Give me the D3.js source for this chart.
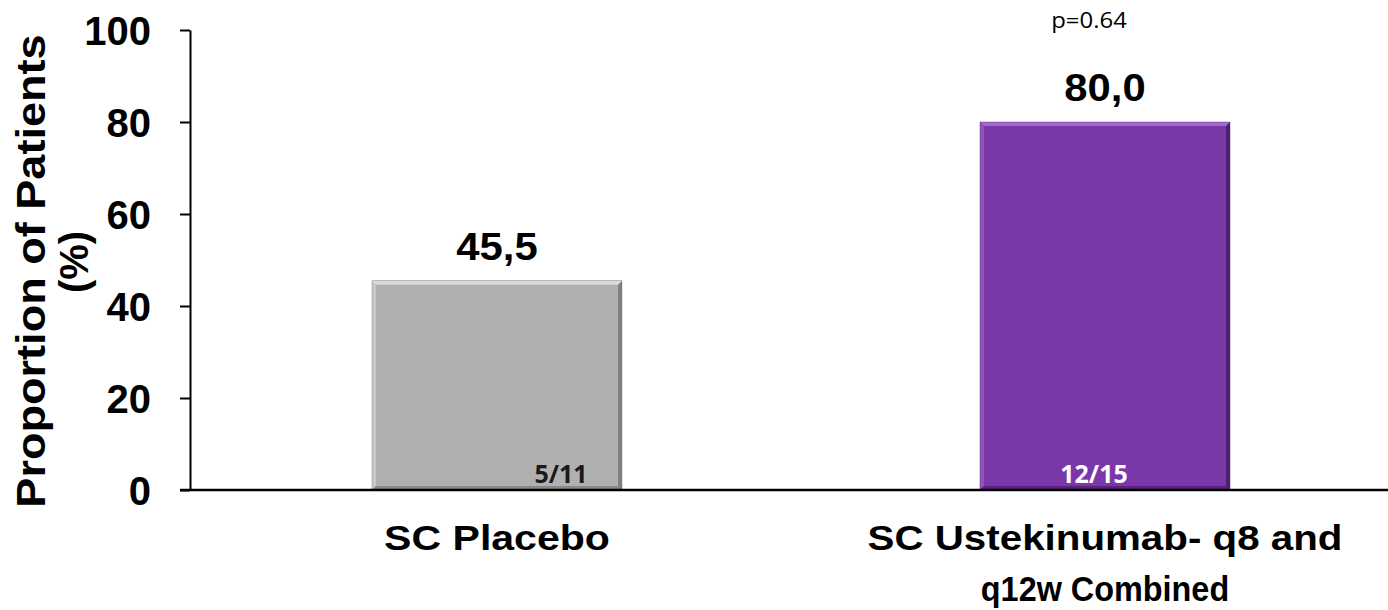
<!DOCTYPE html>
<html>
<head>
<meta charset="utf-8">
<script src="https://cdn.jsdelivr.net/npm/d3@7"></script>
<style>
  html, body { margin: 0; padding: 0; background: #fff; }
  svg { display: block; }
</style>
</head>
<body>
<svg id="chart" width="1388" height="610"></svg>
<script>
// Chart data
const categories = ["SC Placebo", "SC Ustekinumab- q8 and\nq12w Combined"];
const values = [45.5, 80.0];
const valueLabels = ["45,5", "80,0"];
const countLabels = ["5/11", "12/15"];
const yTicks = [0, 20, 40, 60, 80, 100];
const pValueText = "p=0.64";

// Styling
const ARIAL = "'Liberation Sans', Arial, sans-serif";
const SANS = "'Open Sans', 'DejaVu Sans', sans-serif";
const barColors = ["#b0b0b0", "#7a37a8"];
const edgeLight = ["#dadada", "#a16bcc"];
const edgeDark = ["#707070", "#45175f"];
const countColors = ["#1a1a1a", "#ffffff"];
const countOffsets = [64, -11];
const catStretch = [[1.14], [1.12, 0.9]];

const svg = d3.select("#chart");

const y = d3.scaleLinear().domain([0, 100]).range([490, 30]);
const x = d3.scaleBand().domain(categories).range([193, 1409])
  .paddingInner(0.5888).paddingOuter(0.2944);

// Bars with a bevelled look
const bars = svg.append("g").selectAll("g").data(categories).join("g");
bars.each(function(c, i) {
  const g = d3.select(this);
  const x0 = x(c), w = x.bandwidth();
  const yTop = y(values[i]), yBot = y(0);
  const b = 4;
  g.append("rect").attr("x", x0).attr("y", yTop).attr("width", w).attr("height", yBot - yTop)
    .attr("fill", barColors[i]);
  // left bevel
  g.append("polygon")
    .attr("points", [[x0, yTop], [x0 + b, yTop + b], [x0 + b, yBot - b], [x0, yBot]].join(" "))
    .attr("fill", edgeLight[i]).attr("opacity", 0.55);
  // right bevel
  g.append("polygon")
    .attr("points", [[x0 + w, yTop], [x0 + w - b, yTop + b], [x0 + w - b, yBot - b], [x0 + w, yBot]].join(" "))
    .attr("fill", edgeDark[i]).attr("opacity", 0.75);
  // bottom bevel
  g.append("polygon")
    .attr("points", [[x0, yBot], [x0 + b, yBot - b], [x0 + w - b, yBot - b], [x0 + w, yBot]].join(" "))
    .attr("fill", edgeDark[i]).attr("opacity", 0.6);
  // top bevel
  g.append("polygon")
    .attr("points", [[x0, yTop], [x0 + w, yTop], [x0 + w - b, yTop + b], [x0 + b, yTop + b]].join(" "))
    .attr("fill", edgeLight[i]);
  g.append("rect").attr("x", x0).attr("y", yTop).attr("width", w).attr("height", yBot - yTop)
    .attr("fill", "none").attr("stroke", edgeDark[i]).attr("stroke-width", 0.6).attr("stroke-opacity", 0.6);
});

// Value labels above bars
svg.append("g").selectAll("text").data(categories).join("text")
  .attr("transform", (c, i) => `translate(${x(c) + x.bandwidth() / 2},${y(values[i]) - 21}) scale(1.1,1)`)
  .attr("text-anchor", "middle")
  .attr("font-family", ARIAL)
  .attr("font-weight", "bold").attr("font-size", 38)
  .attr("fill", "#000")
  .text((c, i) => valueLabels[i]);

// Count labels inside bars
svg.append("g").selectAll("text").data(categories).join("text")
  .attr("x", (c, i) => x(c) + x.bandwidth() / 2 + countOffsets[i])
  .attr("y", y(0) - 7)
  .attr("text-anchor", "middle")
  .attr("font-family", SANS)
  .attr("font-weight", "bold").attr("font-size", 25)
  .attr("fill", (c, i) => countColors[i])
  .text((c, i) => countLabels[i]);

// p-value annotation
svg.append("text")
  .attr("transform", `translate(${x(categories[1]) + x.bandwidth() / 2 - 16},28) scale(1.14,1)`)
  .attr("text-anchor", "middle")
  .attr("font-family", SANS)
  .attr("font-size", 21).attr("fill", "#000")
  .text(pValueText);

// Y axis
const yAxis = svg.append("g").attr("transform", "translate(190,0)")
  .call(d3.axisLeft(y).tickValues(yTicks).tickSize(10).tickSizeOuter(0).tickPadding(29));
yAxis.select(".domain").attr("stroke", "#000").attr("stroke-width", 2);
yAxis.selectAll(".tick line").attr("stroke", "#000").attr("stroke-width", 2);
yAxis.selectAll(".tick text")
  .attr("font-family", ARIAL)
  .attr("font-weight", "bold").attr("font-size", 40).attr("fill", "#000")
  .attr("dy", "0.36em");

// X axis baseline
svg.append("line")
  .attr("x1", 180).attr("x2", 1388)
  .attr("y1", y(0)).attr("y2", y(0))
  .attr("stroke", "#000").attr("stroke-width", 2.5);

// Category labels
svg.append("g").selectAll("g").data(categories).join("g")
  .each(function(c, i) {
    const lines = c.split("\n");
    d3.select(this).selectAll("text").data(lines).join("text")
      .attr("transform", (d, j) =>
        `translate(${x(c) + x.bandwidth() / 2},${550 + j * 51}) scale(${catStretch[i][j]},1)`)
      .attr("text-anchor", "middle")
      .attr("font-family", ARIAL)
      .attr("font-weight", "bold").attr("font-size", 36).attr("fill", "#000")
      .text(d => d);
  });

// Y axis title
svg.append("text")
  .attr("transform", "translate(45,271) rotate(-90) scale(1.1,1)")
  .attr("text-anchor", "middle")
  .attr("font-family", ARIAL)
  .attr("font-weight", "bold").attr("font-size", 41).attr("fill", "#000")
  .text("Proportion of Patients");
svg.append("text")
  .attr("transform", "translate(88,262) rotate(-90)")
  .attr("text-anchor", "middle")
  .attr("font-family", ARIAL)
  .attr("font-weight", "bold").attr("font-size", 40).attr("fill", "#000")
  .text("(%)");
</script>
</body>
</html>
